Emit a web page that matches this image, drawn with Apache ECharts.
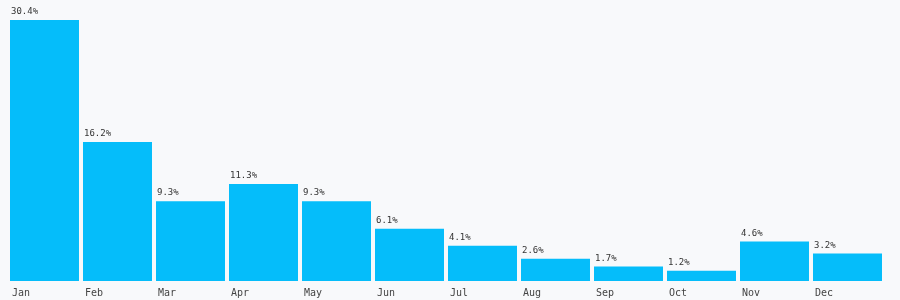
<!DOCTYPE html>
<html><head><meta charset="utf-8">
<script src="https://cdn.jsdelivr.net/npm/echarts@6/dist/echarts.min.js"></script>
<style>html,body{margin:0;padding:0;background:#f8f9fb}#c{width:900px;height:300px}</style>
</head><body><div id="c"></div>
<script>
const months = ['Jan','Feb','Mar','Apr','May','Jun','Jul','Aug','Sep','Oct','Nov','Dec'];
const shares = [30.4,16.2,9.3,11.3,9.3,6.1,4.1,2.6,1.7,1.2,4.6,3.2];
const font = '"DejaVu Sans Mono", monospace';
const chart = echarts.init(document.getElementById('c'));
chart.setOption({
  backgroundColor: '#f8f9fb',
  animation: false,
  grid: {left: 8, right: 16, top: 20, bottom: 19},
  xAxis: {
    type: 'category', data: months,
    axisLine: {show: false}, axisTick: {show: false},
    axisLabel: {
      margin: 7, fontFamily: font, fontSize: 10, color: '#444',
      formatter: v => '{a|' + v + '}',
      rich: {a: {width: 65, align: 'left', fontFamily: font, fontSize: 10, color: '#444'}}
    }
  },
  yAxis: {type: 'value', min: 0, max: 30.4, show: false, splitLine: {show: false}},
  series: [{
    type: 'bar', data: shares, barCategoryGap: '5.5%',
    itemStyle: {color: '#05bdfa'},
    label: {
      show: true, position: [1, -8], align: 'left', verticalAlign: 'middle',
      fontFamily: font, fontSize: 9, color: '#333',
      formatter: p => p.value + '%'
    }
  }]
});
</script></body></html>
